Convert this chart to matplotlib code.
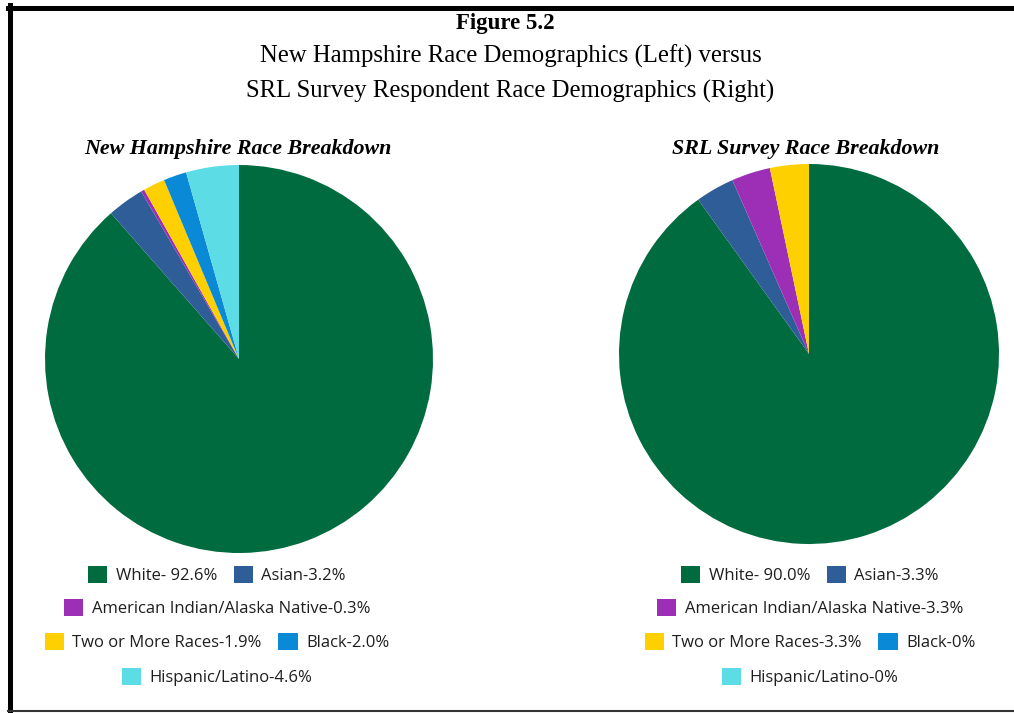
import matplotlib.pyplot as plt
from matplotlib.patches import Patch
from matplotlib.lines import Line2D

# data
races = ["White", "Asian", "American Indian/Alaska Native", "Two or More Races", "Black", "Hispanic/Latino"]
nh_pct = [92.6, 3.2, 0.3, 1.9, 2.0, 4.6]
srl_pct = [90.0, 3.3, 3.3, 3.3, 0.0, 0.0]
nh_labels = ["White- 92.6%", "Asian-3.2%", "American Indian/Alaska Native-0.3%",
             "Two or More Races-1.9%", "Black-2.0%", "Hispanic/Latino-4.6%"]
srl_labels = ["White- 90.0%", "Asian-3.3%", "American Indian/Alaska Native-3.3%",
              "Two or More Races-3.3%", "Black-0%", "Hispanic/Latino-0%"]
colors = ["#006b3f", "#2f5d97", "#9c2fb5", "#ffd000", "#0a8ad6", "#5cdde6"]

W, H = 1014, 713
fig = plt.figure(figsize=(W / 100, H / 100), dpi=100)

serif = "Liberation Serif"
sans = "Open Sans"

def px(x, y):
    return x / W, 1 - y / H

# titles
fig.text(*px(505, 23), "Figure 5.2", ha="center", va="center", fontsize=16.5,
         fontweight="bold", family=serif)
fig.text(*px(511, 56), "New Hampshire Race Demographics (Left) versus", ha="center",
         va="center", fontsize=17.8, family=serif)
fig.text(*px(510, 91), "SRL Survey Respondent Race Demographics (Right)", ha="center",
         va="center", fontsize=17.8, family=serif)

def draw_pie(cx, cy, r, vals, title, tx):
    ax = fig.add_axes([(cx - r) / W, (H - cy - r) / H, 2 * r / W, 2 * r / H])
    ax.pie(vals, colors=colors, startangle=90, counterclock=False,
           wedgeprops=dict(linewidth=0))
    ax.set_xlim(-1, 1)
    ax.set_ylim(-1, 1)
    ax.set_aspect("equal")
    fig.text(*px(tx, 149), title, ha="center", va="center", fontsize=15.8,
             fontweight="bold", fontstyle="italic", family=serif)

draw_pie(239, 359, 194, nh_pct, "New Hampshire Race Breakdown", 238)
draw_pie(809, 354, 190, srl_pct, "SRL Survey Race Breakdown", 806)

rows = [[0, 1], [2], [3, 4], [5]]

def draw_legend(labels, cx, ys):
    for row, y in zip(rows, ys):
        handles = [Patch(facecolor=colors[i], edgecolor="none") for i in row]
        fig.legend(handles, [labels[i] for i in row], loc="center",
                   bbox_to_anchor=px(cx, y), ncol=len(row), frameon=False,
                   prop=dict(family=sans, size=12), handlelength=1.15,
                   handleheight=1.15, handletextpad=0.5, columnspacing=1.0,
                   borderpad=0, borderaxespad=0, labelcolor="#1e1e1e")

draw_legend(nh_labels, 217, [575, 608, 642, 677])
draw_legend(srl_labels, 810, [575, 608, 642, 677])

# frame lines around the figure
fig.add_artist(Line2D([8 / W, 1], [1 - 7.5 / H] * 2, color="black", lw=3.6,
                      transform=fig.transFigure))
fig.add_artist(Line2D([9.5 / W] * 2, [1 - 5 / H, 1 - 711 / H], color="black", lw=3.6,
                      transform=fig.transFigure))
fig.add_artist(Line2D([8 / W, 1], [1 - 710.5 / H] * 2, color="#333333", lw=1.5,
                      transform=fig.transFigure))

fig.savefig("out.png", dpi=100)
